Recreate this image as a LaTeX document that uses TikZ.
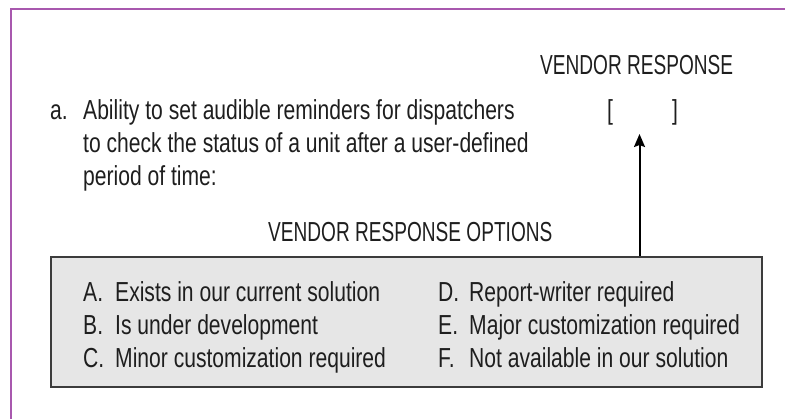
\documentclass[tikz,border=0pt]{standalone}
\usepackage{fontspec}
\setmainfont{Liberation Sans}[FakeStretch=0.767]
\newfontfamily\headfont{Liberation Sans}[FakeStretch=0.694]
\usetikzlibrary{arrows.meta}
\definecolor{framepurple}{RGB}{168,88,174}
\definecolor{boxfill}{RGB}{230,230,230}
\definecolor{boxline}{RGB}{60,60,60}
\definecolor{ink}{RGB}{30,30,30}
\begin{document}
\begin{tikzpicture}[x=1pt,y=-1pt,
  txt/.style={anchor=base west, inner sep=0pt, text=ink,
              font=\fontsize{27.5}{32}\selectfont},
  headtxt/.style={txt, font=\headfont\fontsize{27.5}{32}\selectfont},
  frameline/.style={draw=framepurple, line width=1.6pt},
  optbox/.style={draw=boxline, fill=boxfill, line width=1.6pt,
                 minimum width=711pt, minimum height=130pt, inner sep=0pt},
  pointer/.style={draw=black, line width=2pt,
                  -{Stealth[length=13pt,width=11pt,inset=2pt]}}]
  \useasboundingbox (0,0) rectangle (785,419);

  % page frame: top and left rules
  \draw[frameline] (785,9) -- (11,9) -- (11,419);

  % column heading and the response field
  \node[headtxt] (head) at (540,75) {VENDOR RESPONSE};
  \node[txt] (lbr) at (607,120) {[};
  \node[txt] (rbr) at (672,120) {]};
  \coordinate (tip) at (639.5,134);

  % requirement text
  \node[txt] (itema) at (50,120) {a.};
  \node[txt] (l1) at (83,120) {Ability to set audible reminders for dispatchers};
  \node[txt] (l2) at (83,153) {to check the status of a unit after a user-defined};
  \node[txt] (l3) at (83,186) {period of time:};

  % options heading and box
  \node[headtxt] (opthead) at (268,242) {VENDOR RESPONSE OPTIONS};
  \node[optbox] (opts) at (406.5,322) {};

  \node[txt] (ka) at (83,302) {A.};
  \node[txt] (ta) at (115,302) {Exists in our current solution};
  \node[txt] (kb) at (83,335) {B.};
  \node[txt] (tb) at (115,335) {Is under development};
  \node[txt] (kc) at (83,368) {C.};
  \node[txt] (tc) at (115,368) {Minor customization required};
  \node[txt] (kd) at (438,302) {D.};
  \node[txt] (td) at (469,302) {Report-writer required};
  \node[txt] (ke) at (438,335) {E.};
  \node[txt] (te) at (469,335) {Major customization required};
  \node[txt] (kf) at (438,368) {F.};
  \node[txt] (tf) at (469,368) {Not available in our solution};

  % arrow from the options box up to the response field
  \draw[pointer] (tip |- opts.north) -- (tip);
\end{tikzpicture}
\end{document}
